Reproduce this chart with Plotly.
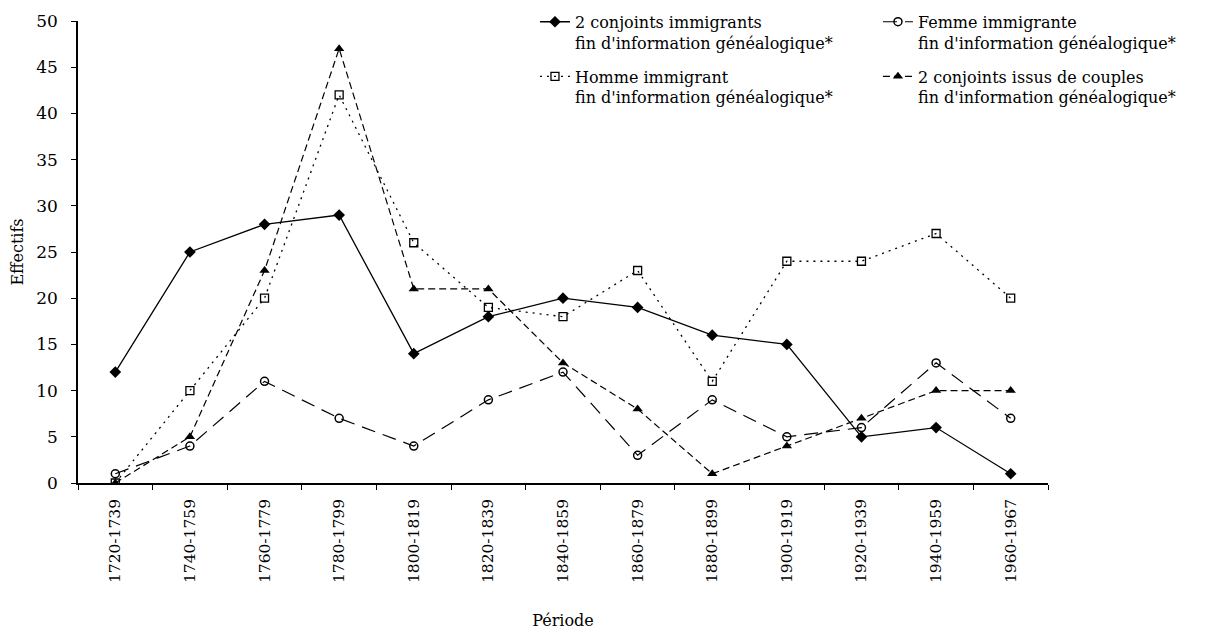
import plotly.graph_objects as go

periods = ["1720-1739", "1740-1759", "1760-1779", "1780-1799", "1800-1819", "1820-1839",
           "1840-1859", "1860-1879", "1880-1899", "1900-1919", "1920-1939", "1940-1959", "1960-1967"]

deux_conjoints_immigrants = [12, 25, 28, 29, 14, 18, 20, 19, 16, 15, 5, 6, 1]
femme_immigrante = [1, 4, 11, 7, 4, 9, 12, 3, 9, 5, 6, 13, 7]
homme_immigrant = [0, 10, 20, 42, 26, 19, 18, 23, 11, 24, 24, 27, 20]
deux_conjoints_issus = [0, 5, 23, 47, 21, 21, 13, 8, 1, 4, 7, 10, 10]

names = [
    "2 conjoints immigrants<br>fin d'information généalogique*",
    "Femme immigrante<br>fin d'information généalogique*",
    "Homme immigrant<br>fin d'information généalogique*",
    "2 conjoints issus de couples<br>fin d'information généalogique*",
]

FONT = "DejaVu Serif"

fig = go.Figure()
fig.add_trace(go.Scatter(
    x=periods, y=deux_conjoints_immigrants, name=names[0], mode="lines+markers",
    legend="legend", legendgroup="a",
    line=dict(color="black", width=1.3, dash="solid"),
    marker=dict(symbol="diamond", size=9, color="black")))
fig.add_trace(go.Scatter(
    x=periods, y=femme_immigrante, name=names[1], mode="lines+markers",
    legend="legend2", legendgroup="b",
    line=dict(color="black", width=1.2, dash="14px,8px"),
    marker=dict(symbol="circle-open", size=8, color="black", line=dict(width=1.5))))
fig.add_trace(go.Scatter(
    x=periods, y=homme_immigrant, name=names[2], mode="lines+markers",
    legend="legend", legendgroup="c",
    line=dict(color="black", width=1.3, dash="2px,5px"),
    marker=dict(symbol="square-open", size=8, color="black", line=dict(width=1.3))))
fig.add_trace(go.Scatter(
    x=periods, y=deux_conjoints_issus, name=names[3], mode="lines+markers",
    legend="legend2", legendgroup="d",
    line=dict(color="black", width=1.2, dash="7px,4px"),
    marker=dict(symbol="triangle-up", size=9, color="black")))

legend_common = dict(
    orientation="v", yanchor="top", xanchor="left", valign="top",
    traceorder="grouped", tracegroupgap=10,
    font=dict(family=FONT, size=16, color="black"),
    bgcolor="rgba(0,0,0,0)", borderwidth=0,
)

fig.update_layout(
    width=1210, height=622,
    paper_bgcolor="white", plot_bgcolor="white",
    margin=dict(l=70, r=170, t=13, b=147, autoexpand=False),
    font=dict(family=FONT, size=16, color="black"),
    showlegend=True,
    legend=dict(x=0.4711, y=1.035, **legend_common),
    legend2=dict(x=0.8247, y=1.035, **legend_common),
    xaxis=dict(
        type="category", categoryorder="array", categoryarray=periods,
        showline=True, linecolor="black", linewidth=1.5,
        ticks="outside", ticklen=5, tickcolor="black", tickson="boundaries",
        tickangle=-90, showgrid=False, zeroline=False, automargin=False,
        ticklabelstandoff=8,
        tickfont=dict(family=FONT, size=15.5),
        title=dict(text="Période", font=dict(family=FONT, size=16), standoff=50),
        range=[-0.5, 12.5],
    ),
    yaxis=dict(
        range=[0, 50], tickmode="linear", tick0=0, dtick=5,
        showline=True, linecolor="black", linewidth=1.5,
        ticks="outside", ticklen=5, tickcolor="black", ticklabelstandoff=10,
        showgrid=False, zeroline=False, automargin=False,
        tickfont=dict(family=FONT, size=17),
        title=dict(text="Effectifs", font=dict(family=FONT, size=16), standoff=10),
    ),
)

fig.write_html("out.html")
